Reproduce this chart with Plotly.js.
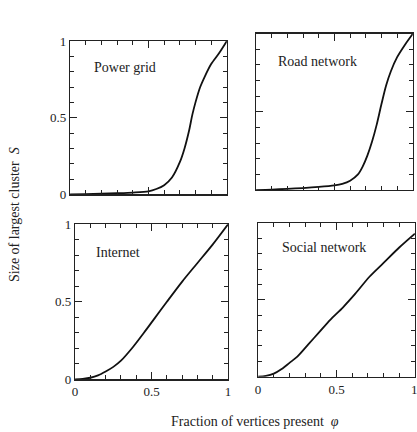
<!DOCTYPE html>
<html><head><meta charset="utf-8">
<script src="https://cdn.plot.ly/plotly-3.0.1.min.js"></script>
<style>html,body{margin:0;padding:0;background:#fff}#c{width:417px;height:432px}</style>
</head><body><div id="c"></div>
<script>
const panelNames = ["Power grid", "Road network", "Internet", "Social network"];
const powerX = [0,0.1,0.2,0.3,0.4,0.5,0.55,0.6,0.65,0.7,0.73,0.76,0.78,0.8,0.83,0.86,0.9,0.95,1];
const powerS = [0,0.002,0.005,0.008,0.012,0.02,0.035,0.06,0.11,0.21,0.3,0.42,0.52,0.6,0.7,0.77,0.85,0.92,1];
const roadX = [0,0.1,0.2,0.3,0.4,0.5,0.55,0.6,0.65,0.68,0.71,0.74,0.77,0.8,0.83,0.86,0.9,0.95,1];
const roadS = [0,0.003,0.008,0.013,0.02,0.03,0.04,0.06,0.1,0.15,0.22,0.31,0.42,0.55,0.67,0.76,0.85,0.93,1];
const internetX = [0,0.05,0.1,0.15,0.2,0.25,0.3,0.38,0.45,0.51,0.6,0.7,0.8,0.9,1];
const internetS = [0,0.003,0.01,0.025,0.05,0.08,0.12,0.21,0.3,0.38,0.5,0.63,0.75,0.87,1];
const socialX = [0,0.05,0.1,0.15,0.2,0.25,0.32,0.39,0.46,0.54,0.62,0.71,0.8,0.9,1];
const socialS = [0,0.005,0.02,0.05,0.09,0.13,0.21,0.29,0.37,0.45,0.54,0.65,0.74,0.84,0.93];
const tickVals = [0, 0.5, 1];
const tickText = ["0", "0.5", "1"];

const series = [[powerX,powerS],[roadX,roadS],[internetX,internetS],[socialX,socialS]];
const font = "Liberation Serif, Times New Roman, serif";
const traces = series.map((s,i)=>({
  x:s[0], y:s[1], type:'scatter', mode:'lines',
  line:{color:'#111', width:1.8, shape:'spline', smoothing:0.8},
  xaxis: i===0?'x':'x'+(i+1), yaxis: i===0?'y':'y'+(i+1), hoverinfo:'skip', cliponaxis:false
}));
const xd = [[0.168,0.544],[0.614,0.990],[0.180,0.547],[0.619,0.995]];
const yd = [[0.550,0.905],[0.560,0.922],[0.122,0.481],[0.128,0.484]];
function ax(domain, showLabels, anchor){
  return {domain:domain, range:[0,1], anchor:anchor, showgrid:false, zeroline:false,
    showline:true, linecolor:'#222', linewidth:1.3, mirror:'allticks',
    ticks:'inside', ticklen:7, tickwidth:1, tickcolor:'#222',
    tickvals:tickVals, ticktext:tickText, showticklabels:showLabels,
    tickfont:{family:font,size:13,color:'#222'},
    minor:{dtick:0.1, ticks:'inside', ticklen:4, tickwidth:1, tickcolor:'#222'}};
}
const layout = {width:417, height:432, margin:{l:0,r:0,t:0,b:0},
  paper_bgcolor:'#fff', plot_bgcolor:'#fff', showlegend:false, annotations:[]};
for(let i=0;i<4;i++){
  const s = i===0?'':(i+1);
  layout['xaxis'+s] = ax(xd[i], i>=2, 'y'+s);
  layout['yaxis'+s] = ax(yd[i], i%2===0, 'x'+s);
}
// last x tick label of bottom-right panel sits at the page edge
layout.annotations.push({text:tickText[2], x:tickVals[2], y:0, xref:'x4', yref:'y4',
  yshift:-13, xanchor:'center', showarrow:false, font:{family:font,size:13,color:'#222'}});
const labelPos = [[0.35,0.83],[0.39,0.82],[0.28,0.82],[0.42,0.84]];
panelNames.forEach((n,i)=>{
  const s = i===0?'':(i+1);
  layout.annotations.push({text:n, x:labelPos[i][0], y:labelPos[i][1], xref:'x'+s, yref:'y'+s,
    showarrow:false, font:{family:font,size:14,color:'#222'}});
});
layout.annotations.push({text:"Size of largest cluster  <i>S</i>", textangle:-90,
  x:15/417, y:1-215/432, xref:'paper', yref:'paper', xanchor:'center', yanchor:'middle', showarrow:false,
  font:{family:font,size:14,color:'#222'}});
layout.annotations.push({text:"Fraction of vertices present  <i>φ</i>",
  x:255/417, y:1-421/432, xref:'paper', yref:'paper', xanchor:'center', yanchor:'middle', showarrow:false,
  font:{family:font,size:14,color:'#222'}});
Plotly.newPlot('c', traces, layout, {staticPlot:true});
</script></body></html>
